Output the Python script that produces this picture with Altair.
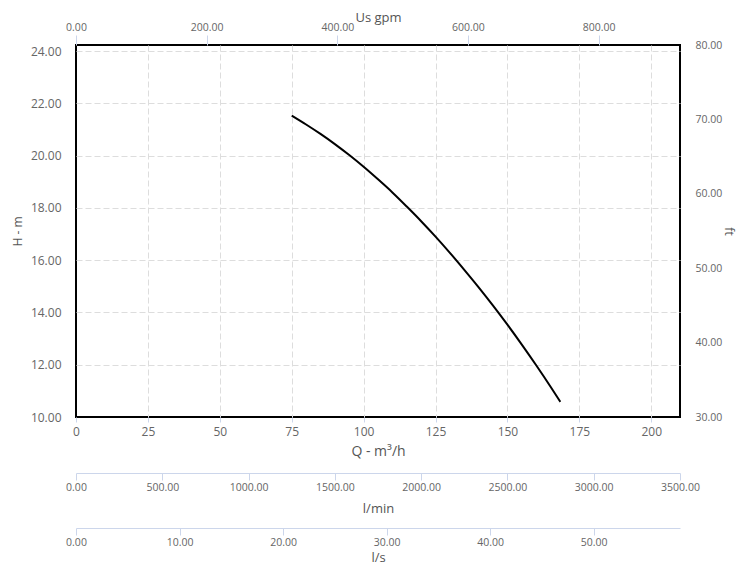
import altair as alt
import pandas as pd

# Pump curve (Q in m3/h, H in m)
q_m3h = [75, 80, 85, 90, 95, 100, 105, 110, 115, 120, 125, 130, 135, 140, 145, 150, 155, 160, 165, 168.4]
head_m = [21.53, 21.19, 20.83, 20.44, 20.02, 19.57, 19.09, 18.59, 18.05, 17.49, 16.90, 16.28, 15.63,
          14.96, 14.26, 13.53, 12.77, 11.98, 11.16, 10.58]

# axis tick values
q_ticks = [0, 25, 50, 75, 100, 125, 150, 175, 200]
q_grid = [25, 50, 75, 100, 125, 150, 175, 200]
h_ticks = [10, 12, 14, 16, 18, 20, 22, 24]
h_grid = [12, 14, 16, 18, 20, 22, 24]
ft_ticks = [30, 40, 50, 60, 70, 80]
gpm_ticks = [0, 200, 400, 600, 800]
lmin_ticks = [0, 500, 1000, 1500, 2000, 2500, 3000, 3500]
ls_ticks = [0, 10, 20, 30, 40, 50]

# axis ranges
q_domain = [0, 210]
h_domain = [10, 24.23]
ft_domain = [30, 80]
gpm_domain = [0, 924.6]
lmin_domain = [0, 3500]
ls_domain = [0, 58.33]

FONT = "Open Sans"
GRID = "#dddddd"
LIGHT = "#ccd6eb"


def q_scale():
    return alt.Scale(domain=q_domain, nice=False, zero=False)


def h_scale():
    return alt.Scale(domain=h_domain, nice=False, zero=False)


grid = alt.Chart(pd.DataFrame({"Qg": q_domain, "Hg": h_domain})).mark_point(opacity=0).encode(
    x=alt.X("Qg:Q", scale=q_scale(),
            axis=alt.Axis(orient="bottom", values=q_grid, grid=True, gridDash=[6, 3], gridColor=GRID,
                          labels=False, ticks=False, domain=False, title=None)),
    y=alt.Y("Hg:Q", scale=h_scale(),
            axis=alt.Axis(orient="left", values=h_grid, grid=True, gridDash=[6, 3], gridColor=GRID,
                          labels=False, ticks=False, domain=False, title=None)),
)

curve = alt.Chart(pd.DataFrame({"Q": q_m3h, "H": head_m})).mark_line(
    color="black", strokeWidth=2, interpolate="monotone"
).encode(
    x=alt.X("Q:Q", scale=q_scale(),
            axis=alt.Axis(orient="bottom", values=q_ticks, format="d", title="Q - m³/h",
                          grid=False, domain=False, ticks=True, tickSize=5, tickColor=LIGHT,
                          labelPadding=4, labelFontSize=12, titleFontSize=14, titlePadding=7)),
    y=alt.Y("H:Q", scale=h_scale(),
            axis=alt.Axis(orient="left", values=h_ticks, format=".2f", title="H - m",
                          grid=False, domain=False, ticks=False, tickSize=0, labelPadding=15,
                          labelFontSize=12, titleFontSize=12, titlePadding=6)),
)

top_right = alt.Chart(pd.DataFrame({"gpm": gpm_domain, "ft": ft_domain})).mark_point(opacity=0).encode(
    x=alt.X("gpm:Q", scale=alt.Scale(domain=gpm_domain, nice=False, zero=False),
            axis=alt.Axis(orient="top", values=gpm_ticks, format=".2f", title="Us gpm",
                          grid=False, domain=False, ticks=True, tickSize=10, tickColor=LIGHT,
                          labelPadding=3, labelFontSize=10.5, titleFontSize=13, titlePadding=-2)),
    y=alt.Y("ft:Q", scale=alt.Scale(domain=ft_domain, nice=False, zero=False),
            axis=alt.Axis(orient="right", values=ft_ticks, format=".2f", title="ft",
                          grid=False, domain=False, ticks=False, tickSize=0, labelPadding=15,
                          labelFontSize=10.5, titleFontSize=12, titlePadding=0)),
)

lmin = alt.Chart(pd.DataFrame({"lmin": lmin_domain})).mark_point(opacity=0).encode(
    x=alt.X("lmin:Q", scale=alt.Scale(domain=lmin_domain, nice=False, zero=False),
            axis=alt.Axis(orient="bottom", offset=56, values=lmin_ticks, format=".2f", title="l/min",
                          grid=False, domain=True, domainColor=LIGHT, ticks=True, tickSize=7,
                          tickColor=LIGHT, labelPadding=2, labelFontSize=10.5,
                          titleFontSize=13, titlePadding=10)),
)

ls = alt.Chart(pd.DataFrame({"ls": ls_domain})).mark_point(opacity=0).encode(
    x=alt.X("ls:Q", scale=alt.Scale(domain=ls_domain, nice=False, zero=False),
            axis=alt.Axis(orient="bottom", offset=111, values=ls_ticks, format=".2f", title="l/s",
                          grid=False, domain=True, domainColor=LIGHT, ticks=True, tickSize=7,
                          tickColor=LIGHT, labelPadding=2, labelFontSize=10.5,
                          titleFontSize=13, titlePadding=4)),
)

chart = alt.layer(grid, curve, top_right, lmin, ls).resolve_scale(
    x="independent", y="independent"
).properties(
    width=604, height=372,
    autosize=alt.AutoSizeParams(type="none"),
    padding={"left": 68, "top": 37, "right": 57, "bottom": 148},
).configure_view(
    stroke="black", strokeWidth=2
).configure_axis(
    labelFont=FONT, titleFont=FONT, labelColor="#666666", titleColor="#555555",
    titleFontWeight="normal", labelFlush=False, labelOverlap=False
)

chart.save("out.html", embed_options={"renderer": "svg", "actions": False})
